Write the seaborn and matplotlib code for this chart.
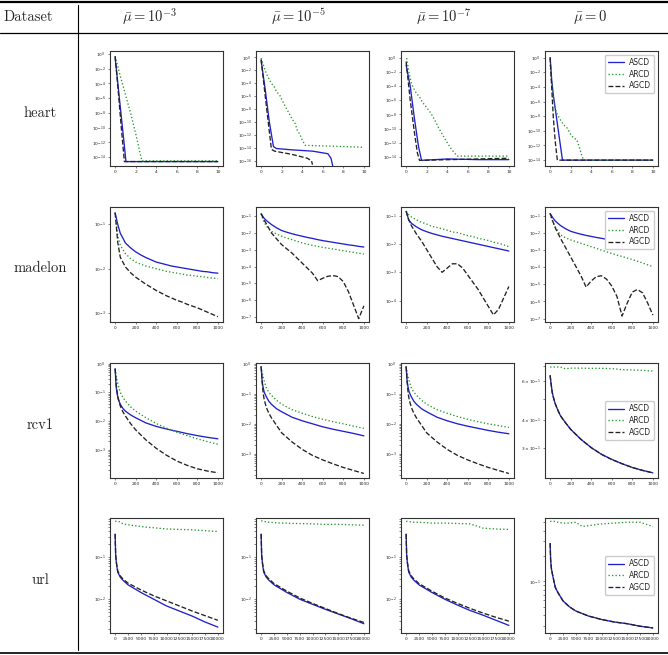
import numpy as np
import matplotlib
matplotlib.use('Agg')
import matplotlib.pyplot as plt
from matplotlib.lines import Line2D
import seaborn as sns

# ---------------- data (values are log10 of the objective gap) ----------------
methods = ['ASCD', 'ARCD', 'AGCD']
datasets = ['heart', 'madelon', 'rcv1', 'url']
col_titles = [r'$\bar{\mu} = 10^{-3}$', r'$\bar{\mu} = 10^{-5}$', r'$\bar{\mu} = 10^{-7}$', r'$\bar{\mu} = 0$']

# heart (x = time)
heart_m3_ascd_x = [0, 0.3, 0.6, 0.9, 1.05, 10]
heart_m3_ascd_y = [-0.5, -4.5, -8.5, -12.5, -14.6, -14.6]
heart_m3_arcd_x = [0, 0.5, 1, 1.5, 2, 2.6, 10]
heart_m3_arcd_y = [-0.3, -3, -5.5, -8, -10.8, -14.5, -14.5]
heart_m3_agcd_x = [0, 0.3, 0.6, 0.9, 10]
heart_m3_agcd_y = [-0.3, -5, -10, -14.6, -14.6]

heart_m5_ascd_x = [0, 0.4, 0.8, 1.2, 1.5, 3, 5, 6.5, 6.8, 7]
heart_m5_ascd_y = [-0.5, -5, -10, -13.8, -14.1, -14.3, -14.5, -14.9, -15.6, -17]
heart_m5_arcd_x = [0, 0.5, 1, 1.3, 1.5, 1.8, 2, 2.5, 3, 3.3, 3.5, 3.8, 4, 4.3, 10]
heart_m5_arcd_y = [-0.1, -2.5, -4, -4.6, -5.3, -5.8, -6.5, -8, -9.5, -10.2, -11.2, -12.0, -12.8, -13.6, -13.9]
heart_m5_agcd_x = [0, 0.4, 0.8, 1.0, 1.3, 3, 4.5, 4.9, 5.0]
heart_m5_agcd_y = [-0.3, -6, -11.5, -14.2, -14.5, -15.0, -15.6, -16, -16.6]

heart_m7_ascd_x = [0, 0.4, 0.8, 1.2, 1.5, 4, 7, 10]
heart_m7_ascd_y = [-1, -4, -8.5, -12.5, -14.5, -14.3, -14.4, -14.4]
heart_m7_arcd_x = [0.05, 0.3, 0.5, 0.7, 1, 1.3, 1.6, 2, 2.4, 2.8, 3.2, 3.6, 4, 4.4, 4.8, 5, 10]
heart_m7_arcd_y = [0, -2.2, -3.5, -4.2, -5, -5.5, -6.3, -7, -7.8, -8.8, -10, -11, -12, -12.9, -13.6, -13.9, -13.9]
heart_m7_agcd_x = [0, 0.4, 0.8, 1.1, 1.3, 10]
heart_m7_agcd_y = [-0.5, -6, -10.5, -13.5, -14.5, -14.2]

heart_m0_ascd_x = [0, 0.15, 0.3, 0.6, 1.0, 1.2, 10]
heart_m0_ascd_y = [0, -3, -5, -8, -12, -14, -14]
heart_m0_arcd_x = [0, 0.15, 0.3, 0.45, 0.6, 0.8, 1.0, 1.3, 1.6, 2.0, 2.3, 2.6, 2.9, 3.1, 3.3, 10]
heart_m0_arcd_y = [-1, -3.5, -5.5, -6.5, -7.5, -8, -8.5, -9.2, -9.5, -10.5, -11, -11.2, -12.5, -13.5, -14, -14]
heart_m0_agcd_x = [0, 0.15, 0.3, 0.5, 0.7, 10]
heart_m0_agcd_y = [0, -4, -8, -11.5, -14, -14]

# madelon (x = iterations)
madelon_x = [0, 25, 50, 100, 150, 200, 250, 300, 350, 400, 450, 500, 550, 600, 650, 700, 750, 800, 850, 900, 950, 1000]
madelon_m3_ascd = [-0.74, -1.0, -1.2, -1.42, -1.53, -1.62, -1.69, -1.75, -1.8, -1.85, -1.88, -1.91, -1.94, -1.96, -1.98, -2.0, -2.02, -2.04, -2.06, -2.07, -2.09, -2.1]
madelon_m3_arcd = [-0.74, -1.25, -1.47, -1.66, -1.77, -1.85, -1.9, -1.94, -1.97, -2.0, -2.03, -2.06, -2.08, -2.1, -2.12, -2.14, -2.15, -2.17, -2.18, -2.2, -2.21, -2.22]
madelon_m3_agcd = [-0.74, -1.4, -1.74, -1.96, -2.09, -2.19, -2.27, -2.35, -2.42, -2.49, -2.55, -2.61, -2.66, -2.71, -2.75, -2.8, -2.84, -2.88, -2.93, -2.98, -3.03, -3.08]
madelon_m5_ascd = [-0.86, -1.1, -1.26, -1.5, -1.7, -1.86, -1.96, -2.05, -2.13, -2.2, -2.27, -2.33, -2.4, -2.46, -2.51, -2.56, -2.61, -2.66, -2.71, -2.75, -2.8, -2.84]
madelon_m5_arcd = [-0.86, -1.3, -1.6, -1.9, -2.07, -2.2, -2.31, -2.4, -2.5, -2.6, -2.67, -2.74, -2.8, -2.86, -2.91, -2.96, -3.01, -3.06, -3.11, -3.16, -3.21, -3.26]
madelon_m5_agcd = [-0.86, -1.2, -1.45, -2.0, -2.35, -2.7, -2.95, -3.2, -3.5, -3.8, -4.1, -4.4, -4.84, -4.7, -4.58, -4.54, -4.6, -4.9, -5.5, -6.3, -7.1, -6.34]
madelon_m7_ascd = [-0.85, -1.15, -1.27, -1.4, -1.5, -1.57, -1.63, -1.68, -1.73, -1.77, -1.81, -1.85, -1.89, -1.93, -1.97, -2.01, -2.05, -2.09, -2.13, -2.17, -2.21, -2.25]
madelon_m7_arcd = [-0.85, -0.97, -1.05, -1.15, -1.24, -1.3, -1.38, -1.42, -1.47, -1.52, -1.58, -1.6, -1.66, -1.71, -1.74, -1.8, -1.84, -1.88, -1.94, -1.98, -2.03, -2.1]
madelon_m7_agcd = [-0.85, -1.15, -1.35, -1.65, -1.9, -2.2, -2.5, -2.8, -3.0, -2.85, -2.7, -2.7, -2.85, -3.1, -3.35, -3.6, -3.9, -4.2, -4.5, -4.3, -3.9, -3.5]
madelon_m0_ascd = [-0.86, -1.1, -1.3, -1.56, -1.75, -1.9, -1.99, -2.07, -2.14, -2.2, -2.26, -2.31, -2.37, -2.43, -2.47, -2.51, -2.55, -2.59, -2.63, -2.67, -2.71, -2.75]
madelon_m0_arcd = [-0.86, -1.35, -1.64, -2.1, -2.28, -2.4, -2.5, -2.6, -2.7, -2.8, -2.9, -3.0, -3.1, -3.2, -3.29, -3.37, -3.46, -3.55, -3.65, -3.75, -3.86, -3.96]
madelon_m0_agcd = [-0.86, -1.3, -1.7, -2.3, -2.85, -3.4, -3.95, -4.5, -5.16, -4.8, -4.55, -4.5, -4.7, -5.1, -5.7, -6.85, -6.1, -5.45, -5.3, -5.5, -6.1, -6.8]

# rcv1 (x = iterations)
rcv1_x = [0, 10, 20, 30, 50, 75, 100, 150, 200, 300, 400, 500, 600, 700, 800, 900, 1000]
rcv1_m3_ascd = [-0.18, -0.82, -1.05, -1.24, -1.41, -1.55, -1.65, -1.78, -1.88, -2.06, -2.18, -2.27, -2.35, -2.43, -2.5, -2.56, -2.61]
rcv1_m3_arcd = [-0.18, -0.4, -0.59, -0.75, -1.0, -1.17, -1.3, -1.5, -1.65, -1.88, -2.08, -2.24, -2.38, -2.5, -2.61, -2.71, -2.8]
rcv1_m3_agcd = [-0.18, -0.7, -1.0, -1.2, -1.47, -1.67, -1.82, -2.08, -2.3, -2.65, -2.94, -3.18, -3.38, -3.53, -3.65, -3.73, -3.79]
rcv1_m5_ascd = [-0.1, -0.6, -0.8, -0.95, -1.1, -1.25, -1.35, -1.5, -1.6, -1.78, -1.9, -2.0, -2.1, -2.18, -2.25, -2.32, -2.4]
rcv1_m5_arcd = [-0.1, -0.3, -0.45, -0.58, -0.8, -0.95, -1.05, -1.22, -1.35, -1.53, -1.65, -1.76, -1.85, -1.93, -2.0, -2.08, -2.15]
rcv1_m5_agcd = [-0.1, -0.6, -1.0, -1.2, -1.45, -1.65, -1.8, -2.05, -2.3, -2.6, -2.85, -3.05, -3.2, -3.33, -3.45, -3.55, -3.65]
rcv1_m7_ascd = [-0.1, -0.6, -0.8, -0.95, -1.1, -1.25, -1.35, -1.5, -1.6, -1.78, -1.9, -2.0, -2.08, -2.15, -2.22, -2.28, -2.33]
rcv1_m7_arcd = [-0.1, -0.3, -0.45, -0.58, -0.8, -0.95, -1.05, -1.22, -1.35, -1.53, -1.65, -1.76, -1.85, -1.93, -2.0, -2.06, -2.12]
rcv1_m7_agcd = [-0.1, -0.6, -1.0, -1.2, -1.45, -1.65, -1.8, -2.05, -2.3, -2.6, -2.85, -3.05, -3.2, -3.33, -3.45, -3.55, -3.65]
rcv1_m0_ascd = [-0.197, -0.237, -0.272, -0.292, -0.324, -0.352, -0.377, -0.409, -0.438, -0.483, -0.52, -0.55, -0.573, -0.592, -0.609, -0.622, -0.633]
rcv1_m0_arcd = [-0.159, -0.159, -0.159, -0.159, -0.159, -0.159, -0.159, -0.167, -0.164, -0.164, -0.165, -0.165, -0.166, -0.171, -0.172, -0.174, -0.177]
rcv1_m0_agcd = [-0.197, -0.237, -0.272, -0.292, -0.324, -0.352, -0.377, -0.409, -0.438, -0.483, -0.52, -0.55, -0.573, -0.592, -0.609, -0.622, -0.633]

# url (x = iterations)
url_x = [0, 100, 250, 500, 1000, 1500, 2500, 3750, 5000, 6250, 7500, 10000, 12500, 15000, 17500, 20000]
url_m3_ascd = [-0.46, -0.96, -1.15, -1.36, -1.48, -1.55, -1.66, -1.75, -1.84, -1.92, -2.0, -2.16, -2.28, -2.4, -2.54, -2.66]
url_m3_arcd = [-0.16, -0.16, -0.16, -0.16, -0.17, -0.22, -0.24, -0.26, -0.28, -0.3, -0.31, -0.34, -0.35, -0.36, -0.38, -0.4]
url_m3_agcd = [-0.46, -0.95, -1.13, -1.33, -1.45, -1.52, -1.62, -1.7, -1.78, -1.85, -1.92, -2.04, -2.16, -2.28, -2.39, -2.5]
url_m5_ascd = [-0.46, -0.96, -1.15, -1.36, -1.48, -1.55, -1.66, -1.75, -1.84, -1.92, -2.0, -2.12, -2.24, -2.35, -2.46, -2.58]
url_m5_arcd = [-0.15, -0.15, -0.15, -0.16, -0.17, -0.18, -0.19, -0.2, -0.2, -0.21, -0.21, -0.22, -0.23, -0.23, -0.24, -0.25]
url_m5_agcd = [-0.46, -0.95, -1.13, -1.33, -1.45, -1.52, -1.63, -1.72, -1.81, -1.89, -1.97, -2.1, -2.22, -2.34, -2.45, -2.55]
url_m7_ascd = [-0.46, -0.96, -1.15, -1.36, -1.48, -1.55, -1.66, -1.75, -1.84, -1.92, -2.0, -2.14, -2.27, -2.38, -2.5, -2.62]
url_m7_arcd = [-0.16, -0.16, -0.16, -0.17, -0.17, -0.18, -0.18, -0.19, -0.2, -0.2, -0.2, -0.21, -0.22, -0.32, -0.34, -0.35]
url_m7_agcd = [-0.46, -0.95, -1.13, -1.33, -1.45, -1.52, -1.63, -1.72, -1.81, -1.89, -1.97, -2.1, -2.22, -2.33, -2.43, -2.52]
url_m0_ascd = [-0.55, -0.75, -0.85, -0.93, -1.07, -1.13, -1.23, -1.3, -1.35, -1.38, -1.41, -1.45, -1.48, -1.5, -1.53, -1.55]
url_m0_arcd = [-0.29, -0.29, -0.29, -0.29, -0.29, -0.3, -0.31, -0.31, -0.3, -0.35, -0.34, -0.32, -0.31, -0.3, -0.3, -0.35]
url_m0_agcd = [-0.55, -0.75, -0.85, -0.93, -1.07, -1.13, -1.23, -1.3, -1.35, -1.38, -1.41, -1.45, -1.48, -1.5, -1.53, -1.55]

# axis limits (log10) and ticks
heart_yticks = [0, -2, -4, -6, -8, -10, -12, -14]
heart_m5_yticks = [0, -2, -4, -6, -8, -10, -12, -14, -16]
heart_ylims = [(-15.2, 0.4), (-16.8, 1.0), (-15.3, 1.0), (-14.8, 0.9)]
madelon_ylims = [(-3.2, -0.61), (-7.3, -0.46), (-4.75, -0.7), (-7.2, -0.48)]
madelon_yticks = [[-1, -2, -3], [-1, -2, -3, -4, -5, -6, -7], [-1, -2, -3, -4], [-1, -2, -3, -4, -5, -6, -7]]
rcv1_ylims = [(-3.97, 0.02), (-3.8, 0.02), (-3.8, 0.02), (-0.656, -0.141)]
url_ylims = [(-2.8, -0.08), (-2.8, -0.08), (-2.8, -0.08), (-1.61, -0.25)]
heart_xticks = [0, 2, 4, 6, 8, 10]
iter_xticks = [0, 200, 400, 600, 800, 1000]
url_xticks = [0, 2500, 5000, 7500, 10000, 12500, 15000, 17500, 20000]

# ---------------- style ----------------
sns.set_theme(style='ticks')
plt.rcParams['mathtext.fontset'] = 'cm'
plt.rcParams['font.family'] = ['DejaVu Sans']

colors = {'ASCD': '#2020cc', 'ARCD': '#22992a', 'AGCD': '#222222'}
styles = {'ASCD': '-', 'ARCD': ':', 'AGCD': '--'}

W, H = 668, 655
fig = plt.figure(figsize=(W / 100, H / 100), dpi=100)

ax_left = [110, 256, 401, 545]
ax_top = [51, 207, 363, 518]
ax_w, ax_h = 113, 115


def add_ax(r, c):
    x0 = ax_left[c] / W
    y0 = 1 - (ax_top[r] + ax_h) / H
    return fig.add_axes([x0, y0, ax_w / W, ax_h / H])


def draw(ax, xs, ys, ylim, yticks, xticks, xlim, legend_loc=None):
    for m, x, y in zip(methods, xs, ys):
        sns.lineplot(x=x, y=np.power(10.0, y), ax=ax, color=colors[m], linestyle=styles[m],
                     linewidth=0.95, label=m, estimator=None, sort=False)
    ax.set_yscale('log')
    ax.set_ylim(10 ** ylim[0], 10 ** ylim[1])
    if yticks is not None:
        ax.set_yticks([10.0 ** k for k in yticks])
        ax.minorticks_off()
    ax.set_xticks(xticks)
    ax.set_xlim(*xlim)
    ax.tick_params(axis='both', which='both', labelsize=3.2, length=1.5, width=0.4, pad=1.5)
    for s in ax.spines.values():
        s.set_color('#333333')
        s.set_linewidth(0.8)
    if legend_loc:
        ax.legend(loc=legend_loc, fontsize=5.5, handlelength=2.2, borderpad=0.4,
                  labelspacing=0.35, handletextpad=0.6, framealpha=1, edgecolor='#cccccc')
    else:
        ax.get_legend().remove()


heart_x = [
    [heart_m3_ascd_x, heart_m3_arcd_x, heart_m3_agcd_x],
    [heart_m5_ascd_x, heart_m5_arcd_x, heart_m5_agcd_x],
    [heart_m7_ascd_x, heart_m7_arcd_x, heart_m7_agcd_x],
    [heart_m0_ascd_x, heart_m0_arcd_x, heart_m0_agcd_x],
]
heart_y = [
    [heart_m3_ascd_y, heart_m3_arcd_y, heart_m3_agcd_y],
    [heart_m5_ascd_y, heart_m5_arcd_y, heart_m5_agcd_y],
    [heart_m7_ascd_y, heart_m7_arcd_y, heart_m7_agcd_y],
    [heart_m0_ascd_y, heart_m0_arcd_y, heart_m0_agcd_y],
]
madelon_y = [
    [madelon_m3_ascd, madelon_m3_arcd, madelon_m3_agcd],
    [madelon_m5_ascd, madelon_m5_arcd, madelon_m5_agcd],
    [madelon_m7_ascd, madelon_m7_arcd, madelon_m7_agcd],
    [madelon_m0_ascd, madelon_m0_arcd, madelon_m0_agcd],
]
rcv1_y = [
    [rcv1_m3_ascd, rcv1_m3_arcd, rcv1_m3_agcd],
    [rcv1_m5_ascd, rcv1_m5_arcd, rcv1_m5_agcd],
    [rcv1_m7_ascd, rcv1_m7_arcd, rcv1_m7_agcd],
    [rcv1_m0_ascd, rcv1_m0_arcd, rcv1_m0_agcd],
]
url_y = [
    [url_m3_ascd, url_m3_arcd, url_m3_agcd],
    [url_m5_ascd, url_m5_arcd, url_m5_agcd],
    [url_m7_ascd, url_m7_arcd, url_m7_agcd],
    [url_m0_ascd, url_m0_arcd, url_m0_agcd],
]

for c in range(4):
    loc = 'upper right' if c == 3 else None
    ax = add_ax(0, c)
    draw(ax, heart_x[c], heart_y[c], heart_ylims[c], heart_m5_yticks if c == 1 else heart_yticks,
         heart_xticks, (-0.5, 10.5), loc)
    ax = add_ax(1, c)
    draw(ax, [madelon_x] * 3, madelon_y[c], madelon_ylims[c], madelon_yticks[c],
         iter_xticks, (-50, 1050), loc)
    ax = add_ax(2, c)
    draw(ax, [rcv1_x] * 3, rcv1_y[c], rcv1_ylims[c], None,
         iter_xticks, (-50, 1050), 'center right' if c == 3 else None)
    ax = add_ax(3, c)
    draw(ax, [url_x] * 3, url_y[c], url_ylims[c], None,
         url_xticks, (-1000, 21000), 'center right' if c == 3 else None)

# ---------------- table frame and labels ----------------
def hline(y, lw):
    fig.add_artist(Line2D([0, 1], [1 - y / H] * 2, transform=fig.transFigure, color='black', lw=lw))

hline(2, 1.6)
hline(33, 0.9)
hline(653, 1.2)
fig.add_artist(Line2D([78 / W] * 2, [1 - 5 / H, 1 - 650 / H], transform=fig.transFigure,
                      color='black', lw=0.8))

fig.text(28 / W, 1 - 17 / H, 'Dataset', family='cmr10', fontsize=10.5, ha='center', va='center')
for xc, t in zip([150, 298, 444, 590], col_titles):
    fig.text(xc / W, 1 - 17 / H, t, fontsize=10.5, ha='center', va='center')
for yc, name in zip([113, 268, 425, 580], datasets):
    fig.text(40 / W, 1 - yc / H, name, family='cmr10', fontsize=10.5, ha='center', va='center')

fig.savefig('out.png', dpi=100)
